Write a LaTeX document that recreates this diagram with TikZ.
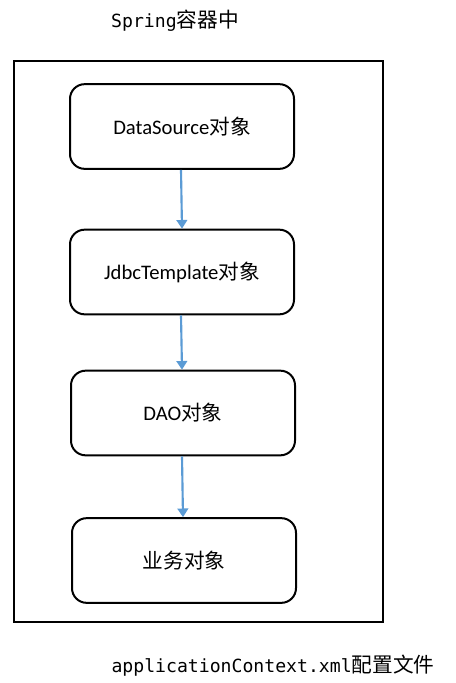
\documentclass[tikz,border=0pt]{standalone}
\usepackage{fontspec}
\setmainfont{Carlito}
\setmonofont{DejaVu Sans Mono}
\newfontfamily\cjk{Noto Sans CJK SC}
\usetikzlibrary{arrows.meta}
\definecolor{arrowblue}{HTML}{5B9BD5}
\begin{document}
\begin{tikzpicture}[x=0.75pt,y=-0.75pt,
  objbox/.style={draw=black,line width=1.5pt,rounded corners=11pt,minimum width=168pt,minimum height=63.5pt,font=\fontsize{15.5}{18}\selectfont,inner sep=0pt},
  flow/.style={draw=arrowblue,line width=1.6pt,-{Triangle[width=8pt,length=6.5pt]}},
  caption/.style={font=\fontsize{13.6}{16}\selectfont\ttfamily,inner sep=0pt}]
\useasboundingbox (0,0) rectangle (456,683);
\node[draw=black,line width=1.5pt,minimum width=276.75pt,minimum height=420.75pt,inner sep=0pt] (frame) at (198.5,341.5) {};
\node[objbox] (ds) at (182,126.5) {DataSource{\cjk 对象}};
\node[objbox] (jt) at (182,272) {JdbcTemplate{\cjk 对象}};
\node[objbox] (dao) at (183,413) {DAO{\cjk 对象}};
\node[objbox] (biz) at (184,560.5) {{\cjk 业务对象}};
\node[caption] (top) at (175,21) {Spring{\fontsize{15.5}{16}\selectfont\cjk 容器中}};
\node[caption] (bot) at (273,666) {applicationContext.xml{\fontsize{15.5}{16}\selectfont\cjk 配置文件}};
\draw[flow] (ds.south -| 181,0) -- (jt.north -| 182,0);
\draw[flow] (jt.south -| 181,0) -- (dao.north -| 182,0);
\draw[flow] (dao.south -| 182,0) -- (biz.north -| 183,0);
\end{tikzpicture}
\end{document}
